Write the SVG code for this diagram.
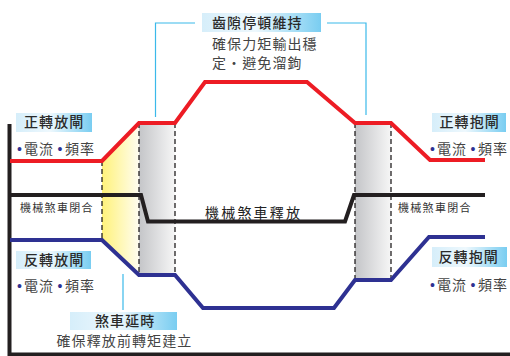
<svg xmlns="http://www.w3.org/2000/svg" width="510" height="356" viewBox="0 0 510 356">
<defs>
<linearGradient id="lbl" x1="0" y1="0" x2="1" y2="0">
<stop offset="0" stop-color="#d6eefa"/>
<stop offset="0.45" stop-color="#eef8fd"/>
<stop offset="1" stop-color="#79cdf1"/>
</linearGradient>
<linearGradient id="gray" x1="0" y1="0" x2="1" y2="0">
<stop offset="0" stop-color="#c4c5c8"/>
<stop offset="1" stop-color="#f6f6f6"/>
</linearGradient>
<linearGradient id="yel" x1="0" y1="0" x2="1" y2="0">
<stop offset="0" stop-color="#fff27a"/>
<stop offset="1" stop-color="#fffdf0"/>
</linearGradient>
<style>
text{font-family:"Liberation Sans","Noto Sans CJK TC",sans-serif;fill:#333}
.t{font-size:14px;letter-spacing:1.1px;font-weight:500;fill:#2a2a2a}
.s{font-size:14px;letter-spacing:1.1px;fill:#444}
.m{font-size:11px;letter-spacing:1.3px;fill:#333}
.b{fill:#2e3192;letter-spacing:0}
.box{fill:url(#lbl)}
.dash{stroke:#231f20;stroke-width:1.3;stroke-dasharray:5,3;fill:none}
.call{stroke:#3bb9ea;stroke-width:1.2;fill:none}
.sig{fill:none;stroke-width:4;stroke-linejoin:miter}
</style>
</defs>
<rect width="510" height="356" fill="#fff"/>

<g id="zones">
<polygon points="102,161 139,123 139,275 102,240" fill="url(#yel)"/>
<rect x="139" y="123" width="36" height="152" fill="url(#gray)"/>
<rect x="355" y="123" width="36" height="157" fill="url(#gray)"/>
</g>

<g id="connectors">
<path class="dash" d="M102,161 V240 M139,123 V275 M175,123 V275 M355,123 V280 M391,123 V280"/>
<path class="call" d="M155.5,117 V23 H195 M327,23 H366 V115 M123,274 V310"/>
<path d="M9.5,124 V354.5 H510" fill="none" stroke="#231f20" stroke-width="4"/>
<path class="sig" stroke="#ed1c24" d="M10,161 H102 L139,123 H175 L205,82 H307 L355,123 H391 L430,160 H485"/>
<path class="sig" stroke="#231f20" d="M10,195 H141 L148,221.5 H345 L354,195 H485"/>
<path class="sig" stroke="#2e3192" d="M10,240 H102 L139,275 H175 L203,308 H334 L355,280 H391 L429,237 H485"/>
</g>

<g id="fwd-release">
<rect class="box" x="16" y="113" width="76" height="19"/>
<text class="t" x="24" y="127">正轉放閘</text>
<text class="s" y="154"><tspan class="b" x="17">•</tspan><tspan x="24">電流</tspan><tspan class="b" x="57.5">•</tspan><tspan x="65">頻率</tspan></text>
</g>

<g id="rev-release">
<rect class="box" x="16" y="251" width="75" height="18"/>
<text class="t" x="24" y="265">反轉放閘</text>
<text class="s" y="290.5"><tspan class="b" x="17">•</tspan><tspan x="24">電流</tspan><tspan class="b" x="57.5">•</tspan><tspan x="65">頻率</tspan></text>
</g>

<g id="backlash">
<rect class="box" x="202" y="13" width="119" height="19"/>
<text class="t" x="212" y="28">齒隙停頓維持</text>
<text class="s" x="212" y="48.5">確保力矩輸出穩</text>
<text class="s" x="212" y="67.5">定・避免溜鉤</text>
</g>

<g id="brake-delay">
<rect class="box" x="70" y="312" width="107" height="18"/>
<text class="t" x="95" y="326">煞車延時</text>
<text class="s" x="56.5" y="346">確保釋放前轉矩建立</text>
</g>

<g id="fwd-hold">
<rect class="box" x="432" y="113" width="74" height="19"/>
<text class="t" x="439.5" y="127">正轉抱閘</text>
<text class="s" y="154"><tspan class="b" x="430">•</tspan><tspan x="437">電流</tspan><tspan class="b" x="470.5">•</tspan><tspan x="478">頻率</tspan></text>
</g>

<g id="rev-hold">
<rect class="box" x="432" y="247" width="75" height="20"/>
<text class="t" x="438.5" y="261.5">反轉抱閘</text>
<text class="s" y="290"><tspan class="b" x="430">•</tspan><tspan x="437">電流</tspan><tspan class="b" x="470.5">•</tspan><tspan x="478">頻率</tspan></text>
</g>

<g id="brake-labels">
<text class="m" x="20" y="212">機械煞車閉合</text>
<text class="m" x="398" y="212">機械煞車閉合</text>
<text class="s" x="205" y="217.5" style="letter-spacing:2.2px;fill:#222">機械煞車釋放</text>
</g>
</svg>
